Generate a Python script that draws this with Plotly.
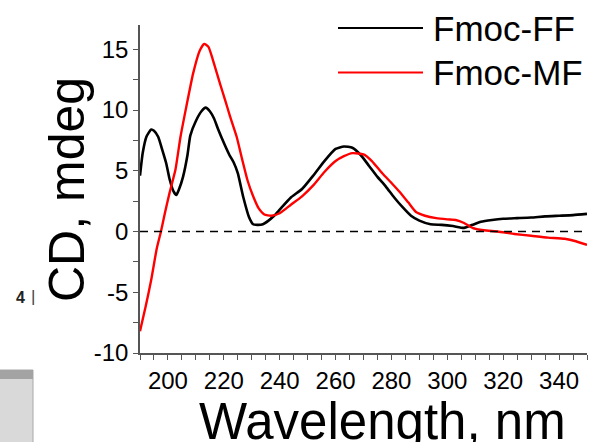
import plotly.graph_objects as go

# CD spectra (wavelength in nm, CD in mdeg)
ff_wl = [190, 191, 192.3, 194, 195, 196.5, 198, 199.4, 200.6, 202, 203, 204, 205.4,
         207, 208, 210, 212, 213.5, 215, 216.5, 218, 220, 222, 223.5, 225, 227, 229,
         230.5, 232, 234, 236, 238, 240, 244, 248, 252, 256, 260, 263, 266, 269, 272,
         275, 278, 281, 284, 287, 290, 294, 298, 302, 306, 309, 312, 316, 320, 325,
         330, 335, 340, 345, 350]
ff_cd = [4.6, 6.5, 7.8, 8.4, 8.3, 7.8, 6.7, 5.6, 4.3, 3.3, 3.0, 3.5, 4.5,
         6.3, 7.9, 9.1, 9.9, 10.2, 9.9, 9.3, 8.4, 7.3, 6.3, 5.7, 4.8, 2.8, 1.2,
         0.6, 0.55, 0.6, 0.9, 1.3, 1.8, 2.8, 3.5, 4.6, 5.8, 6.8, 7.0, 6.9, 6.3, 5.4,
         4.5, 3.7, 2.8, 2.0, 1.3, 0.9, 0.6, 0.55, 0.45, 0.3, 0.55, 0.8, 0.95, 1.05, 1.1,
         1.15, 1.25, 1.3, 1.35, 1.45]

mf_wl = [190, 192, 194, 196, 197.5, 199, 200.6, 202.7, 204.5, 206.6, 209, 211.4, 213,
         214.5, 216, 218.6, 220.5, 222.2, 224.6, 226.5, 228.5, 230.5, 232.5, 234.5, 237,
         240, 244, 248, 252, 256, 260, 263, 266, 270, 273, 276.7, 280, 282.8, 286,
         288.8, 292, 296, 300, 303, 306, 309, 313, 318, 324, 330, 336, 342, 346, 350]
mf_cd = [-8.2, -6.2, -4.0, -1.4, 0.0, 1.6, 3.2, 5.1, 7.8, 10.3, 13.0, 14.9, 15.45,
         15.2, 14.2, 12.2, 10.8, 9.5, 7.8, 6.0, 4.2, 2.9, 1.9, 1.4, 1.3,
         1.5, 2.2, 2.9, 3.8, 4.9, 5.8, 6.2, 6.45, 6.35, 5.8, 4.8, 4.0, 3.3, 2.4,
         1.6, 1.3, 1.1, 1.0, 0.95, 0.7, 0.3, 0.1, 0.0, -0.2, -0.35, -0.5, -0.6, -0.8, -1.1]

names = ["Fmoc-FF", "Fmoc-MF"]
colors = ["black", "#ff0000"]

x_ticks = [200, 220, 240, 260, 280, 300, 320, 340]
y_ticks = [-10, -5, 0, 5, 10, 15]
y_ticktext = ["-10", "-5", "0", "5", "10", "15"]  # plain hyphens like the original

FONT = "Arial, Liberation Sans, sans-serif"

fig = go.Figure()
fig.add_trace(go.Scatter(x=ff_wl, y=ff_cd, mode="lines", name=names[0],
                         line=dict(color=colors[0], width=2.6, shape="spline", smoothing=0.5)))
fig.add_trace(go.Scatter(x=mf_wl, y=mf_cd, mode="lines", name=names[1],
                         line=dict(color=colors[1], width=2.4, shape="spline", smoothing=0.5)))

# plot area in pixels: x 140..587, y 25..353
W, H = 590, 442
L, R, T, B = 140, 3, 25, 89


def px(x):
    return (x - L) / (W - L - R)


def py(y):
    return (H - B - y) / (H - T - B)


shapes = [
    # zero line
    dict(type="line", xref="paper", yref="y", x0=0, x1=1, y0=0, y1=0,
         line=dict(color="black", width=1.5, dash="8px,6px")),
]
annotations = []

# legend drawn by hand so the sample lines are long like the original
for i, (nm, c) in enumerate(zip(names, colors)):
    yy = 28 + i * 44.5
    shapes.append(dict(type="line", xref="paper", yref="paper",
                       x0=px(338), x1=px(423), y0=py(yy), y1=py(yy),
                       line=dict(color=c, width=2)))
    annotations.append(dict(text=nm, xref="paper", yref="paper", x=px(431), y=py(yy),
                            xanchor="left", yanchor="middle", showarrow=False,
                            font=dict(family=FONT, size=35, color="black")))

# axis titles
annotations.append(dict(text="CD, mdeg", xref="paper", yref="paper", x=px(67), y=py(190),
                        textangle=-90, xanchor="center", yanchor="middle", showarrow=False,
                        font=dict(family=FONT, size=50, color="black")))
annotations.append(dict(text="Wavelength, nm", xref="paper", yref="paper", x=px(382), y=py(421),
                        xanchor="center", yanchor="middle", showarrow=False,
                        font=dict(family=FONT, size=51, color="black")))

# bits of the page that show in the crop
shapes.append(dict(type="rect", xref="paper", yref="paper", x0=px(-2), x1=px(33),
                   y0=py(445), y1=py(370), line=dict(color="#a8a8a8", width=1),
                   fillcolor="#d9d9d9", layer="above"))
shapes.append(dict(type="rect", xref="paper", yref="paper", x0=px(-2), x1=px(33),
                   y0=py(379), y1=py(370), line=dict(width=0),
                   fillcolor="#a3a3a3", layer="above"))
annotations.append(dict(text="<b>4</b>", xref="paper", yref="paper", x=px(14), y=py(308),
                        showarrow=False, font=dict(family=FONT, size=16, color="#222")))
annotations.append(dict(text="|", xref="paper", yref="paper", x=px(29), y=py(308),
                        showarrow=False, font=dict(family=FONT, size=17, color="#444")))

fig.update_layout(
    width=W, height=H,
    margin=dict(l=L, r=R, t=T, b=B, autoexpand=False),
    plot_bgcolor="white", paper_bgcolor="white",
    showlegend=False,
    shapes=shapes,
    annotations=annotations,
    xaxis=dict(
        range=[190, 350], tickvals=x_ticks,
        ticks="outside", ticklen=5, tickwidth=1.2, tickcolor="#555",
        minor=dict(dtick=5, tick0=190, ticks="outside", ticklen=5, tickwidth=1.2, tickcolor="#555"),
        showline=True, linecolor="#555", linewidth=1.5, showgrid=False, zeroline=False,
        tickfont=dict(family=FONT, size=24, color="black"),
    ),
    yaxis=dict(
        range=[-10, 17], tickvals=y_ticks, ticktext=y_ticktext,
        ticks="outside", ticklen=5, tickwidth=1.2, tickcolor="#555",
        minor=dict(dtick=2.5, tick0=0, ticks="outside", ticklen=5, tickwidth=1.2, tickcolor="#555"),
        showline=True, linecolor="#555", linewidth=1.5, showgrid=False, zeroline=False,
        tickfont=dict(family=FONT, size=24, color="black"),
    ),
)

# drop the page's default body margin so the figure sits at the window corner
fig.write_html("out.html", config={"displayModeBar": False},
               post_script="document.body.style.margin='0';")
